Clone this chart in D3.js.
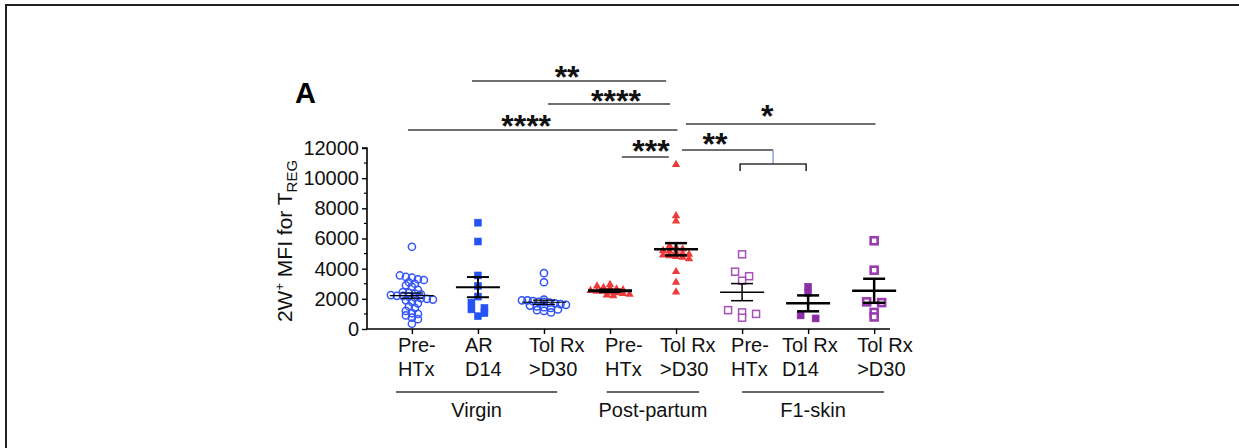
<!DOCTYPE html>
<html>
<head>
<meta charset="utf-8">
<script src="https://cdn.jsdelivr.net/npm/d3@7"></script>
<style>
  body { margin: 0; background: #fff; }
  svg { display: block; font-family: "Liberation Sans", Arial, sans-serif; }
</style>
</head>
<body>
<svg id="chart"></svg>
<script>
const W = 1239, H = 448;

// column labels (two lines each) and the groups under them
const columnLabels = [["Pre-", "HTx"], ["AR", "D14"], ["Tol Rx", ">D30"], ["Pre-", "HTx"],
                      ["Tol Rx", ">D30"], ["Pre-", "HTx"], ["Tol Rx", "D14"], ["Tol Rx", ">D30"]];
const groupNames = ["Virgin", "Post-partum", "F1-skin"];
const yTicks = [0, 2000, 4000, 6000, 8000, 10000, 12000];
const yMinorTicks = [1000, 3000, 5000, 7000, 9000, 11000];

// 2W+ MFI for Treg, one array per column
const virginPreHTx = [5450, 3550, 3450, 3400, 3300, 3250, 3100, 3000, 2900, 2800, 2600, 2450,
                      2400, 2350, 2300, 2250, 2200, 2200, 2150, 2100, 2050, 2000, 1950, 1900,
                      1800, 1700, 1500, 1400, 1200, 1050, 1000, 900, 750, 650, 350];
const virginAR = [7050, 5800, 3550, 2850, 2150, 1750, 1400, 1300, 1050, 850];
const virginTol = [3700, 3100, 1950, 1900, 1900, 1850, 1800, 1800, 1750, 1700,
                   1650, 1600, 1550, 1500, 1450, 1400, 1300, 1250, 1200, 1100];
const ppPreHTx = [2950, 2850, 2750, 2700, 2650, 2600, 2550, 2500, 2500, 2450,
                  2400, 2350, 2300, 2250, 2200];
const ppTol = [10900, 7500, 7150, 5500, 5400, 5300, 5200, 5150, 5100, 5000,
               4950, 4900, 4850, 4800, 4750, 4650, 3800, 3100, 2450];
const f1PreHTx = [4950, 3800, 3500, 3200, 1250, 1100, 1000, 750];
const f1TolD14 = [2800, 2400, 900, 700];
const f1TolD30 = [5850, 3900, 1800, 1750, 1100, 800];

const columns = [virginPreHTx, virginAR, virginTol, ppPreHTx, ppTol, f1PreHTx, f1TolD14, f1TolD30];

// significance labels
const sigLabels = ["**", "****", "****", "***", "*", "**"];

// ---- layout / styles ----
const groupSpan = [[-0.24, 2.2], [2.95, 4.35], [5.0, 7.15]];
const sigLayout = [
  {x0: 0.91, x1: 3.85, y: 81,  tx: 2.35, ty: 72},
  {x0: 2.06, x1: 3.91, y: 104, tx: 3.09, ty: 96},
  {x0: -0.06, x1: 4.02, y: 130, tx: 1.73, ty: 121},
  {x0: 3.18, x1: 3.89, y: 157, tx: 3.62, ty: 146},
  {x0: 4.15, x1: 7.02, y: 124, tx: 5.38, ty: 111},
  {x0: 4.09, x1: 5.47, y: 150, tx: 4.59, ty: 139}
];
const labelNudge = [-14, -13, -15, -5, -16, -11, -26, -17];
const markStyle = [
  {shape: "circle", color: "#3556f6", lw: 1.2, bin: 5, step: 6, half: 22},
  {shape: "square", color: "#2552f2", fill: "#2552f2", lw: 2, bin: 7, step: 13, half: 13},
  {shape: "circle", color: "#2d50f4", lw: 1.2, bin: 5, step: 7, half: 22},
  {shape: "triangle", color: "#f03a3a", lw: 3, bin: 5, step: 6.5, half: 22},
  {shape: "triangle", color: "#f03a3a", lw: 2.5, bin: 5, step: 6.5, half: 22},
  {shape: "square", color: "#a650b8", fill: "#fff", lw: 1.5, bin: 9, step: 14, half: 14},
  {shape: "square", color: "#8a2ea8", fill: "#8a2ea8", lw: 2.5, bin: 10, step: 15, half: 8},
  {shape: "square", color: "#9a3cb0", fill: "#fff", lw: 2.5, bin: 9, step: 15, half: 8, thick: true}
];

const svg = d3.select("#chart").attr("width", W).attr("height", H);

// frame (top + left edges)
svg.append("path").attr("d", `M6,${H} V5 H${W}`)
  .attr("fill", "none").attr("stroke", "#222").attr("stroke-width", 2);

const x = d3.scaleLinear().domain([-0.68, 7.24]).range([367, 890]);
const y = d3.scaleLinear().domain([0, 12000]).range([329, 148]);

// y axis
const yAxis = svg.append("g").attr("transform", "translate(367,0)")
  .call(d3.axisLeft(y).tickValues(yTicks).tickSize(5).tickPadding(3).tickFormat(d3.format("d")));
yAxis.select(".domain").attr("d", `M-5,${y(12000)}H0V${y(0)}`).attr("stroke-width", 1.6);
yAxis.selectAll(".tick line").attr("stroke-width", 1.4);
yAxis.selectAll("text").attr("font-size", 20).attr("fill", "#111")
  .attr("font-family", "Liberation Sans, Arial, sans-serif");
yAxis.selectAll(".minor").data(yMinorTicks).enter().append("line")
  .attr("x1", -3).attr("x2", 0).attr("y1", d => y(d)).attr("y2", d => y(d))
  .attr("stroke", "#000").attr("stroke-width", 1.2);

// x axis
const xAxis = svg.append("g").attr("transform", `translate(0,${y(0)})`)
  .call(d3.axisBottom(x).tickValues(d3.range(8)).tickSize(5).tickFormat(""));
xAxis.select(".domain").attr("d", `M367,0H890`).attr("stroke-width", 1.6);
xAxis.selectAll(".tick line").attr("stroke-width", 1.4);

const xl = svg.append("g").attr("font-size", 20).attr("fill", "#111");
columnLabels.forEach((lines, i) => {
  lines.forEach((t, j) => {
    xl.append("text").attr("x", x(i) + labelNudge[i]).attr("y", 352 + j * 24).text(t);
  });
});
groupNames.forEach((g, i) => {
  const [a, b] = groupSpan[i];
  svg.append("line").attr("x1", x(a)).attr("x2", x(b)).attr("y1", 392).attr("y2", 392)
    .attr("stroke", "#666").attr("stroke-width", 2);
  svg.append("text").attr("x", (x(a) + x(b)) / 2).attr("y", 417)
    .attr("text-anchor", "middle").attr("font-size", 20).attr("fill", "#111").text(g);
});

// y title
const yt = svg.append("text").attr("transform", "translate(292,241) rotate(-90)")
  .attr("text-anchor", "middle").attr("font-size", 21).attr("fill", "#111");
yt.append("tspan").text("2W");
yt.append("tspan").attr("font-size", 13).attr("dy", -8).text("+");
yt.append("tspan").attr("dy", 8).text(" MFI for T");
yt.append("tspan").attr("font-size", 15).attr("dy", 5).text("REG");

// panel letter
svg.append("text").attr("x", 295).attr("y", 103).attr("font-size", 29)
  .attr("font-weight", "bold").attr("fill", "#000").text("A");

// scatter layout: bin points by pixel row, spread each row around the column centre
function rows(values, st) {
  const bins = d3.groups(values.map(v => ({v, py: y(v)})), d => Math.floor(d.py / st.bin));
  const out = [];
  bins.forEach(([, ps]) => {
    const n = ps.length;
    const step = n > 1 ? Math.min(st.step, 2 * st.half / (n - 1)) : 0;
    ps.forEach((p, k) => { p.dx = (k - (n - 1) / 2) * step; out.push(p); });
  });
  return out;
}

const pts = svg.append("g");
columns.forEach((vals, i) => {
  const st = markStyle[i];
  const cx = x(i);
  const g = pts.append("g");
  const data = rows(vals, st);
  if (st.shape === "circle") {
    g.selectAll("circle").data(data).enter().append("circle")
      .attr("cx", d => cx + d.dx).attr("cy", d => d.py).attr("r", 3.6)
      .attr("fill", "none").attr("stroke", st.color).attr("stroke-width", 1.5);
  } else if (st.shape === "square") {
    const s = 7;
    g.selectAll("rect").data(data).enter().append("rect")
      .attr("x", d => cx + d.dx - s / 2).attr("y", d => d.py - s / 2)
      .attr("width", s).attr("height", s)
      .attr("fill", st.fill).attr("stroke", st.color)
      .attr("stroke-width", st.thick ? 2.6 : (st.fill === "#fff" ? 1.5 : 0.5));
  } else {
    g.selectAll("path").data(data).enter().append("path")
      .attr("transform", d => `translate(${cx + d.dx},${d.py})`)
      .attr("d", d3.symbol(d3.symbolTriangle, 30))
      .attr("fill", st.color);
  }
});

// mean +/- SEM
const stats = svg.append("g").attr("stroke", "#000");
columns.forEach((vals, i) => {
  const m = d3.mean(vals), sem = d3.deviation(vals) / Math.sqrt(vals.length);
  const cx = x(i), lw = markStyle[i].lw;
  stats.append("line").attr("x1", cx - 22).attr("x2", cx + 22).attr("y1", y(m)).attr("y2", y(m))
    .attr("stroke-width", lw);
  stats.append("line").attr("x1", cx).attr("x2", cx).attr("y1", y(m + sem)).attr("y2", y(m - sem))
    .attr("stroke-width", lw);
  [m + sem, m - sem].forEach(v => {
    stats.append("line").attr("x1", cx - 11).attr("x2", cx + 11).attr("y1", y(v)).attr("y2", y(v))
      .attr("stroke-width", lw);
  });
});

// significance bars
const sig = svg.append("g");
sigLabels.forEach((lab, i) => {
  const L = sigLayout[i];
  sig.append("line").attr("x1", x(L.x0)).attr("x2", x(L.x1)).attr("y1", L.y).attr("y2", L.y)
    .attr("stroke", "#6f6f6f").attr("stroke-width", 2);
  sig.append("text").attr("x", x(L.tx)).attr("y", L.ty + 16).attr("text-anchor", "middle")
    .attr("font-size", 32).attr("font-weight", "bold").attr("fill", "#111").text(lab);
});
// link from the last comparison down to the F1 bracket
sig.append("line").attr("x1", x(5.47)).attr("x2", x(5.47)).attr("y1", 150).attr("y2", 164)
  .attr("stroke", "#8ea0d8").attr("stroke-width", 1.5);
sig.append("path").attr("d", `M${x(4.97)},171V164H${x(5.97)}V171`)
  .attr("fill", "none").attr("stroke", "#333").attr("stroke-width", 1.6);
</script>
</body>
</html>
